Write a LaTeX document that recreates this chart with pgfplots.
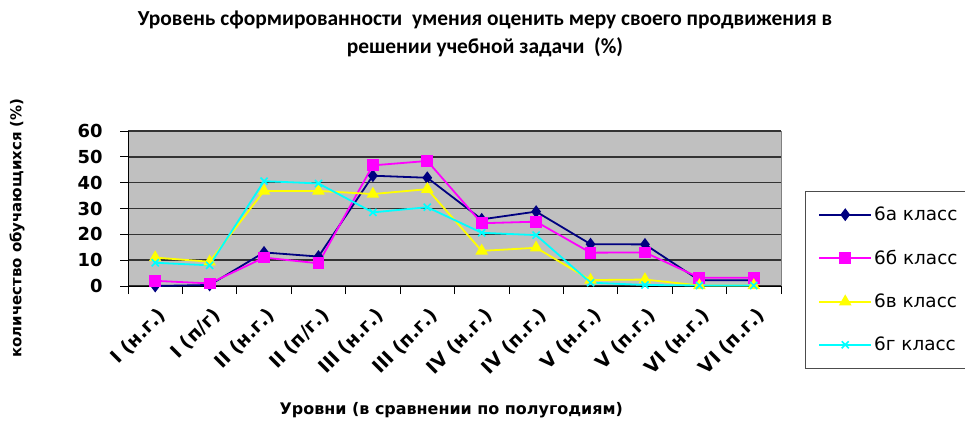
\documentclass[border=0pt]{standalone}
\usepackage{pgfplots}
\pgfplotsset{compat=1.18}
\usepackage{pgfplotstable}
\usepackage{fontspec}
\setmainfont{DejaVu Sans}
\newfontfamily\titlefont{Carlito}
\definecolor{plotbg}{RGB}{192,192,192}
\definecolor{cA}{RGB}{0,0,128}
\definecolor{cB}{RGB}{255,0,255}
\definecolor{cV}{RGB}{255,255,0}
\definecolor{cG}{RGB}{0,255,255}

\pgfplotstableread{
x a b v g
0 0 2 11 9
1 0.4 1 9.4 8
2 13 11 36.8 40.6
3 11.4 8.8 36.8 39.7
4 42.7 46.7 35.6 28.5
5 41.9 48.4 37.5 30.5
6 25.8 24.3 13.6 20.6
7 28.8 24.9 14.8 19.7
8 16.2 12.9 2.3 1.3
9 16.1 13 2.5 0.4
10 2.2 3.2 0.2 0.2
11 2.2 3.2 0.2 0.2
}\datatable

\begin{document}
\begin{tikzpicture}
\useasboundingbox (0bp,0bp) rectangle (965bp,-428bp);
\node[font=\titlefont\bfseries\fontsize{21.5}{28}\selectfont, align=center] at (485bp,-34bp)
 {Уровень сформированности\ \ умения оценить меру своего продвижения в\\решении учебной задачи\ \ (\%)};
\begin{axis}[
 at={(128bp,-286bp)}, anchor=south west,
 scale only axis, width=653bp, height=155bp,
 xmin=-0.5, xmax=11.5, ymin=0, ymax=60,
 axis lines*=left,
 axis line style={black, line width=0.8bp},
 axis background/.style={fill=plotbg, draw=black!50, line width=0.8bp},
 ytick={0,10,...,60},
 xtick={0,...,11},
 xticklabels={I (н.г.), I (п/г), II (н.г.), II (п/г.), III (н.г.), III (п.г.), IV (н.г.), IV (п.г.), V (н.г.), V (п.г.), VI (н.г.), VI (п.г.)},
 minor xtick={-0.5,0.5,...,11.5},
 major x tick style={draw=none},
 tick align=outside,
 major tick length=8bp, minor tick length=8bp,
 tick style={black, line width=0.8bp},
 ymajorgrids,
 major grid style={black!80, line width=1.6bp},
 /pgf/number format/assume math mode=true,
 yticklabel style={font=\bfseries\fontsize{18}{20}\selectfont, xshift=-14bp},
 x tick label style={font=\bfseries\fontsize{19}{22}\selectfont, xshift=10bp, yshift=-16bp, rotate=45, anchor=east},
 xlabel={Уровни (в сравнении по полугодиям)},
 xlabel style={font=\bfseries\fontsize{16}{18}\selectfont, at={(axis description cs:0.495,-0.8)}, anchor=center},
 ylabel={количество обучающихся (\%)},
 ylabel style={font=\bfseries\fontsize{15}{18}\selectfont, at={(axis description cs:-0.170,0.374)}, anchor=center},
 legend style={at={(axis description cs:1.0368,0.614)}, anchor=north west,
   draw=black!70, line width=0.6bp, fill=white,
   font=\fontsize{18.5}{22}\selectfont, row sep=24bp,
   inner xsep=13bp, inner ysep=14bp,
   /tikz/every even column/.append style={column sep=2bp}},
 legend cell align=left,
 legend image code/.code={\draw[mark repeat=2,mark phase=2,#1] plot coordinates {(0bp,0bp)(26bp,0bp)(52bp,0bp)};},
]
\addplot[cA, line width=1.8bp, mark=diamond*, mark size=5bp, mark options={solid, fill=cA}] table[x=x,y=a]{\datatable};
\addlegendentry{6а класс}
\addplot[cB, line width=1.8bp, mark=square*, mark size=5bp, mark options={solid, fill=cB}] table[x=x,y=b]{\datatable};
\addlegendentry{6б класс}
\addplot[cV, line width=1.8bp, mark=triangle*, mark size=5.5bp, mark options={solid, fill=cV}] table[x=x,y=v]{\datatable};
\addlegendentry{6в класс}
\addplot[cG, line width=1.8bp, mark=x, mark size=5bp, mark options={solid, line width=1.6bp}] table[x=x,y=g]{\datatable};
\addlegendentry{6г класс}
\end{axis}
\end{tikzpicture}
\end{document}
